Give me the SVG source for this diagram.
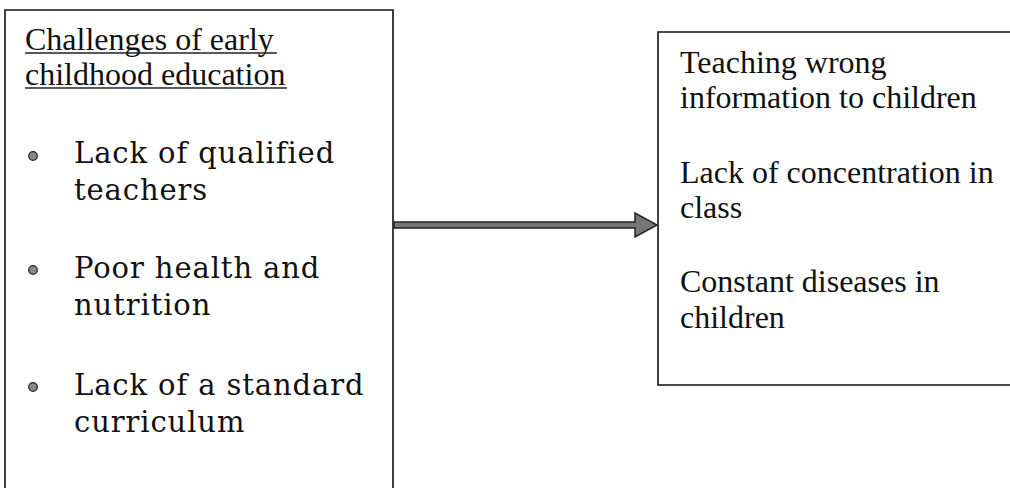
<svg xmlns="http://www.w3.org/2000/svg" width="1010" height="488" viewBox="0 0 1010 488">
<style>
.box{fill:none;stroke:#111;stroke-width:1.6}
.t{font-family:"Liberation Serif","Times New Roman",serif;font-size:32px;fill:#111}
.b{font-family:"DejaVu Serif","Bookman Old Style",serif;font-size:29px;letter-spacing:0.9px;fill:#111}
.bul{fill:#888;stroke:#222;stroke-width:1.2}
.ul{stroke:#222;stroke-width:1.3}
</style>
<rect width="1010" height="488" fill="#fff"/>
<g id="challenges">
<path class="box" d="M5,489 V10 H393 V489"/>
<text class="t" x="25" y="50">Challenges of early</text>
<text class="t" x="25" y="85">childhood education</text>
<line class="ul" x1="25" y1="53" x2="277" y2="53"/>
<line class="ul" x1="25" y1="88" x2="287" y2="88"/>
<circle class="bul" cx="33" cy="156" r="4.3"/>
<text class="b" x="74" y="163">Lack of qualified</text>
<text class="b" x="74" y="200">teachers</text>
<circle class="bul" cx="33" cy="270" r="4.3"/>
<text class="b" x="74" y="278">Poor health and</text>
<text class="b" x="74" y="315">nutrition</text>
<circle class="bul" cx="33" cy="387" r="4.3"/>
<text class="b" x="74" y="395">Lack of a standard</text>
<text class="b" x="74" y="432">curriculum</text>
</g>
<g id="effects">
<path class="box" d="M1011,32 H658 V385 H1011"/>
<text class="t" x="680" y="73">Teaching wrong</text>
<text class="t" x="680" y="108">information to children</text>
<text class="t" x="680" y="183">Lack of concentration in</text>
<text class="t" x="680" y="218">class</text>
<text class="t" x="680" y="292">Constant diseases in</text>
<text class="t" x="680" y="328">children</text>
</g>
<g id="connectors">
<path d="M394,222 H635 V213 L657,225 L635,237 V228 H394 Z" fill="#777" stroke="#222" stroke-width="1.5"/>
</g>
</svg>
